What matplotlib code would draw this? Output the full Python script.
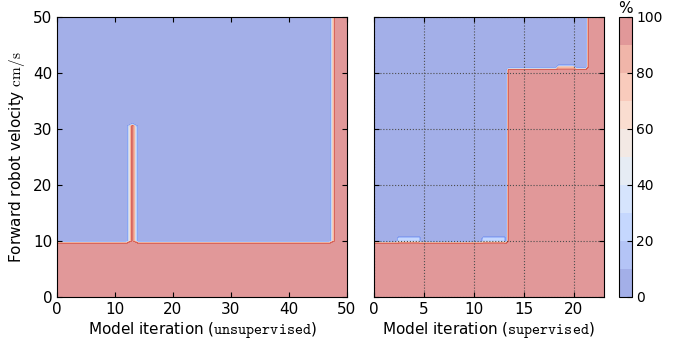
import matplotlib
matplotlib.use('Agg')
import matplotlib.pyplot as plt
import numpy as np

# boundary between "fast" (red, 100%) and "slow" (blue, 0%) per model iteration
unsup_edges = [0, 12.5, 13.5, 47.5, 50]
unsup_limit = [9.8, 30.5, 9.8, 50]
unsup_bumps = []

sup_edges = [0, 13.5, 21.4, 23]
sup_limit = [9.8, 40.5, 50]
# faint fringes just above the boundary: (x0, x1, top velocity, percent)
sup_bumps = [(2.4, 4.6, 10.7, 30), (10.8, 13.2, 10.7, 30), (18.3, 20.0, 41.0, 70)]

levels = np.linspace(0, 100, 11)
cbar_ticks = [0, 20, 40, 60, 80, 100]


def make_field(edges, limits, bumps, xmax, dx, dy):
    x = np.arange(0, xmax + dx / 2, dx)
    y = np.arange(0, 50 + dy / 2, dy)
    X, Y = np.meshgrid(x, y)
    lim = np.zeros_like(X)
    for i, l in enumerate(limits):
        m = (X >= edges[i]) & (X <= edges[i + 1])
        lim[m] = l
    Z = np.where(Y <= lim, 100.0, 0.0)
    for x0, x1, top, pct in bumps:
        m = (X >= x0) & (X <= x1) & (Y > lim) & (Y <= top)
        Z[m] = np.maximum(Z[m], pct)
    return X, Y, Z


plt.rcParams['font.family'] = 'DejaVu Sans'
plt.rcParams['mathtext.fontset'] = 'cm'
plt.rcParams['xtick.direction'] = 'in'
plt.rcParams['ytick.direction'] = 'in'
plt.rcParams['xtick.top'] = True
plt.rcParams['ytick.right'] = True

fig = plt.figure(figsize=(6.82, 3.39), dpi=100)
ax1 = fig.add_axes([0.0836, 0.124, 0.425, 0.826])
ax2 = fig.add_axes([0.548, 0.124, 0.337, 0.826])
cax = fig.add_axes([0.907, 0.124, 0.019, 0.826])

X, Y, Z = make_field(unsup_edges, unsup_limit, unsup_bumps, 50, 1.0, 0.5)
cs = ax1.contourf(X, Y, Z, levels=levels, cmap='coolwarm', alpha=0.5)
ax1.set_xlim(0, 50)
ax1.set_ylim(0, 50)
ax1.set_xticks(range(0, 51, 10))
ax1.set_yticks(range(0, 51, 10))
ax1.set_xlabel(r'Model iteration ($\mathtt{unsupervised}$)', fontsize=11, labelpad=2)
ax1.set_ylabel(r'Forward robot velocity $\mathrm{cm/s}$', fontsize=11)

X, Y, Z = make_field(sup_edges, sup_limit, sup_bumps, 23, 0.25, 0.5)
ax2.contourf(X, Y, Z, levels=levels, cmap='coolwarm', alpha=0.5)
ax2.set_xlim(0, 23)
ax2.set_ylim(0, 50)
ax2.set_xticks(range(0, 21, 5))
ax2.set_yticks(range(0, 51, 10))
ax2.set_yticklabels([])
ax2.grid(True, color='0.3', linestyle=':', linewidth=0.8)
ax2.set_xlabel(r'Model iteration ($\mathtt{supervised}$)', fontsize=11, labelpad=2)

for ax in (ax1, ax2):
    ax.tick_params(labelsize=11)

cb = fig.colorbar(cs, cax=cax, ticks=cbar_ticks)
cb.ax.tick_params(labelsize=10, direction='in')
cax.set_title('%', fontsize=11, pad=3)

fig.savefig('out.png', dpi=100, facecolor='white')
